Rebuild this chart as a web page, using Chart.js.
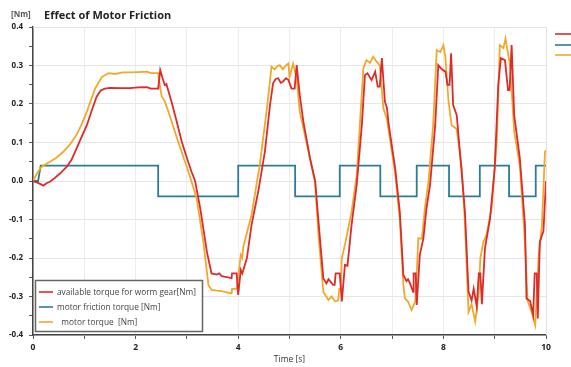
<!DOCTYPE html>
<html>
<head>
<meta charset="utf-8">
<script src="https://cdn.jsdelivr.net/npm/chart.js@4.4.1/dist/chart.umd.min.js"></script>
<style>
  html, body { margin: 0; padding: 0; background: #fff; }
  #wrap { width: 571px; height: 367px; position: relative; }
</style>
</head>
<body>
<div id="wrap"><canvas id="frictionChart"></canvas></div>
<script>
// series (time in s, torque in Nm)
const redTime = [0, 0.1, 0.2, 0.27, 0.33, 0.4, 0.53, 0.66, 0.75, 0.85, 0.95, 1.05, 1.15, 1.24, 1.32, 1.4, 1.5, 1.7, 1.89, 2.05, 2.22, 2.3, 2.44, 2.48, 2.53, 2.57, 2.6, 2.7, 2.8, 2.9, 3.0, 3.09, 3.16, 3.26, 3.39, 3.48, 3.58, 3.63, 3.68, 3.8, 3.87, 3.88, 3.97, 4.0, 4.05, 4.08, 4.17, 4.26, 4.39, 4.52, 4.62, 4.68, 4.73, 4.78, 4.83, 4.87, 4.93, 4.98, 5.04, 5.1, 5.14, 5.2, 5.27, 5.4, 5.5, 5.56, 5.66, 5.72, 5.76, 5.79, 5.85, 5.88, 5.9, 5.98, 6.02, 6.08, 6.13, 6.21, 6.31, 6.41, 6.47, 6.52, 6.6, 6.67, 6.72, 6.76, 6.8, 6.86, 6.9, 6.93, 7.06, 7.15, 7.22, 7.28, 7.31, 7.35, 7.41, 7.42, 7.46, 7.48, 7.54, 7.61, 7.67, 7.74, 7.84, 7.9, 7.97, 8.04, 8.08, 8.12, 8.15, 8.19, 8.26, 8.36, 8.42, 8.49, 8.55, 8.59, 8.65, 8.69, 8.72, 8.75, 8.81, 8.91, 9.0, 9.07, 9.12, 9.2, 9.26, 9.29, 9.33, 9.38, 9.49, 9.59, 9.62, 9.69, 9.75, 9.78, 9.82, 9.84, 9.88, 9.95, 10.0];
const redTorque = [0, -0.005, -0.012, -0.005, -0.002, 0.005, 0.02, 0.037, 0.055, 0.085, 0.115, 0.145, 0.185, 0.219, 0.235, 0.24, 0.242, 0.241, 0.241, 0.243, 0.244, 0.24, 0.24, 0.288, 0.265, 0.249, 0.252, 0.206, 0.155, 0.102, 0.06, 0.024, 0.0, -0.071, -0.184, -0.24, -0.243, -0.24, -0.247, -0.25, -0.253, -0.24, -0.24, -0.296, -0.231, -0.24, -0.2, -0.114, -0.028, 0.076, 0.197, 0.254, 0.265, 0.267, 0.255, 0.258, 0.267, 0.262, 0.24, 0.24, 0.301, 0.223, 0.154, 0.059, 0.0, -0.097, -0.253, -0.266, -0.255, -0.26, -0.27, -0.27, -0.24, -0.24, -0.313, -0.218, -0.22, -0.114, -0.01, 0.145, 0.275, 0.28, 0.262, 0.284, 0.245, 0.245, 0.319, 0.206, 0.19, 0.15, 0.033, -0.08, -0.244, -0.26, -0.255, -0.266, -0.288, -0.24, -0.24, -0.322, -0.192, -0.149, -0.071, -0.01, 0.145, 0.301, 0.29, 0.284, 0.25, 0.25, 0.332, 0.197, 0.171, 0.016, -0.08, -0.288, -0.31, -0.28, -0.326, -0.24, -0.24, -0.32, -0.175, -0.097, 0.033, 0.25, 0.319, 0.314, 0.236, 0.236, 0.353, 0.171, 0.059, -0.114, -0.305, -0.312, -0.348, -0.24, -0.24, -0.357, -0.158, -0.13, 0.0];

const frictionTime = [0, 0.1, 0.15, 2.44, 2.44, 4.0, 4.0, 5.11, 5.11, 5.98, 5.98, 6.77, 6.77, 7.48, 7.48, 8.11, 8.11, 8.71, 8.71, 9.28, 9.28, 9.8, 9.8, 10];
const frictionTorque = [0, 0, 0.04, 0.04, -0.04, -0.04, 0.04, 0.04, -0.04, -0.04, 0.04, 0.04, -0.04, -0.04, 0.04, 0.04, -0.04, -0.04, 0.04, 0.04, -0.04, -0.04, 0.04, 0.04];

const motorTime = [0, 0.08, 0.14, 0.2, 0.33, 0.45, 0.59, 0.72, 0.85, 0.95, 1.05, 1.13, 1.21, 1.34, 1.47, 1.6, 1.75, 1.89, 2.05, 2.22, 2.3, 2.44, 2.47, 2.51, 2.56, 2.64, 2.83, 3.03, 3.19, 3.32, 3.42, 3.48, 3.58, 3.68, 3.8, 3.87, 3.88, 3.97, 4.0, 4.05, 4.08, 4.1, 4.26, 4.42, 4.56, 4.65, 4.71, 4.76, 4.81, 4.87, 4.93, 4.98, 5.0, 5.07, 5.14, 5.2, 5.37, 5.5, 5.56, 5.66, 5.76, 5.82, 5.89, 5.95, 5.97, 6.0, 6.02, 6.08, 6.21, 6.31, 6.44, 6.5, 6.57, 6.63, 6.7, 6.76, 6.83, 6.9, 7.06, 7.15, 7.22, 7.25, 7.31, 7.38, 7.45, 7.47, 7.51, 7.58, 7.64, 7.71, 7.8, 7.87, 7.94, 8.0, 8.04, 8.1, 8.16, 8.26, 8.36, 8.42, 8.49, 8.55, 8.62, 8.69, 8.72, 8.78, 8.84, 8.94, 9.04, 9.1, 9.17, 9.21, 9.3, 9.38, 9.49, 9.59, 9.64, 9.72, 9.79, 9.86, 9.92, 9.98, 10.0];
const motorTorque = [0, 0.02, 0.033, 0.04, 0.05, 0.06, 0.076, 0.095, 0.12, 0.148, 0.18, 0.21, 0.24, 0.27, 0.28, 0.278, 0.282, 0.282, 0.283, 0.284, 0.28, 0.28, 0.25, 0.219, 0.21, 0.18, 0.102, 0.024, -0.045, -0.158, -0.27, -0.283, -0.285, -0.286, -0.29, -0.292, -0.28, -0.28, -0.25, -0.192, -0.2, -0.17, -0.088, 0.042, 0.189, 0.297, 0.29, 0.298, 0.301, 0.29, 0.3, 0.305, 0.27, 0.305, 0.267, 0.18, 0.076, -0.005, -0.132, -0.288, -0.309, -0.3, -0.313, -0.31, -0.28, -0.28, -0.2, -0.166, -0.08, 0.016, 0.293, 0.314, 0.307, 0.323, 0.31, 0.3, 0.189, 0.16, 0.02, -0.1, -0.27, -0.305, -0.313, -0.335, -0.313, -0.27, -0.149, -0.15, -0.07, 0.0, 0.145, 0.34, 0.335, 0.353, 0.32, 0.206, 0.145, 0.135, 0.03, -0.11, -0.34, -0.32, -0.365, -0.29, -0.2, -0.158, -0.14, -0.07, 0.102, 0.353, 0.345, 0.37, 0.3, 0.128, 0.04, -0.158, -0.31, -0.34, -0.374, -0.19, -0.114, 0.076, 0.08];

const seriesNames = ['available torque for worm gear[Nm]', 'motor friction torque [Nm]', '  motor torque  [Nm]'];
const seriesColors = ['#dc2b2b', '#2c7c95', '#f0a92e'];

const xMin = 0, xMax = 10;
const yMin = -0.4, yMax = 0.4;

function toPoints(xs, ys) {
  return xs.map((x, i) => ({ x: x, y: ys[i] }));
}

const isTenth = v => Math.abs(Math.round(v * 100)) % 10 === 0;

// title, unit label, framed legend and the clipped legend at the right
const decorations = {
  id: 'decorations',
  beforeDatasetsDraw(chart) {
    const { ctx, chartArea: a } = chart;
    ctx.save();
    ctx.strokeStyle = '#e2e2e2';
    ctx.lineWidth = 1;
    ctx.beginPath();
    ctx.moveTo(a.left, a.top + 0.5);
    ctx.lineTo(a.right + 0.5, a.top + 0.5);
    ctx.lineTo(a.right + 0.5, a.bottom);
    ctx.stroke();
    ctx.restore();
  },
  afterDraw(chart) {
    const ctx = chart.ctx;
    ctx.save();
    ctx.textBaseline = 'middle';
    ctx.fillStyle = '#555';
    ctx.font = 'bold 8px "Open Sans"';
    ctx.fillText('[Nm]', 11, 15);
    ctx.fillStyle = '#222';
    ctx.font = 'bold 11px "Open Sans"';
    ctx.fillText('Effect of Motor Friction', 44, 16);

    // legend box
    ctx.fillStyle = '#fff';
    ctx.fillRect(35, 280, 168, 52);
    ctx.strokeStyle = '#666';
    ctx.lineWidth = 1.5;
    ctx.strokeRect(35.5, 280.5, 167, 51);
    ctx.font = '8.3px "Open Sans"';
    const rows = [292, 307, 322];
    seriesNames.forEach((name, i) => {
      ctx.strokeStyle = seriesColors[i];
      ctx.lineWidth = 1.6;
      ctx.beginPath();
      ctx.moveTo(39, rows[i]);
      ctx.lineTo(53, rows[i]);
      ctx.stroke();
      ctx.fillStyle = '#444';
      ctx.fillText(name, 57, rows[i] + 0.5);
    });

    // right-hand legend, cut off by the canvas edge
    [34, 45, 55].forEach((y, i) => {
      ctx.strokeStyle = seriesColors[i];
      ctx.lineWidth = 1.6;
      ctx.beginPath();
      ctx.moveTo(555, y);
      ctx.lineTo(571, y);
      ctx.stroke();
    });
    ctx.restore();
  }
};

new Chart(document.getElementById('frictionChart'), {
  type: 'line',
  data: {
    datasets: [
      { label: seriesNames[0], data: toPoints(redTime, redTorque), borderColor: seriesColors[0], order: 0 },
      { label: seriesNames[1], data: toPoints(frictionTime, frictionTorque), borderColor: seriesColors[1], order: 2 },
      { label: seriesNames[2], data: toPoints(motorTime, motorTorque), borderColor: seriesColors[2], order: 1 }
    ]
  },
  options: {
    responsive: true,
    maintainAspectRatio: false,
    animation: false,
    layout: { padding: { top: 27, right: 25, left: 0, bottom: 0 } },
    elements: {
      point: { radius: 0 },
      line: { borderWidth: 1.8, tension: 0, fill: false }
    },
    plugins: {
      legend: { display: false },
      title: { display: false },
      tooltip: { enabled: false }
    },
    scales: {
      x: {
        type: 'linear',
        min: xMin,
        max: xMax,
        afterFit: s => { s.height = 32; },
        border: { display: true, color: '#444', width: 1.5 },
        grid: { color: '#ececec', tickColor: '#555', tickLength: 4 },
        ticks: {
          stepSize: 1,
          autoSkip: false,
          maxRotation: 0,
          padding: 3,
          color: '#222',
          font: { family: 'Open Sans', size: 8.5, weight: 'bold' },
          callback: v => (v % 2 === 0 ? String(v) : '')
        },
        title: {
          display: true,
          text: 'Time [s]',
          color: '#333',
          font: { family: 'Open Sans', size: 8.5 },
          padding: { top: 0, bottom: 2 }
        }
      },
      y: {
        min: yMin,
        max: yMax,
        afterFit: s => { s.width = 33; },
        afterBuildTicks: s => {
          const ticks = [];
          for (let i = -8; i <= 8; i++) ticks.push({ value: i * 0.05 });
          s.ticks = ticks;
        },
        border: { display: true, color: '#444', width: 1.5 },
        grid: {
          color: c => (isTenth(c.tick.value) ? '#e6e6e6' : 'rgba(0,0,0,0)'),
          tickColor: '#555',
          tickLength: 4
        },
        ticks: {
          autoSkip: false,
          padding: 6,
          color: '#222',
          font: { family: 'Open Sans', size: 8, weight: 'bold' },
          callback: v => (isTenth(v) ? (Math.abs(v) < 1e-9 ? '0.0' : v.toFixed(1)) : '')
        }
      }
    }
  },
  plugins: [decorations]
});
</script>
</body>
</html>
